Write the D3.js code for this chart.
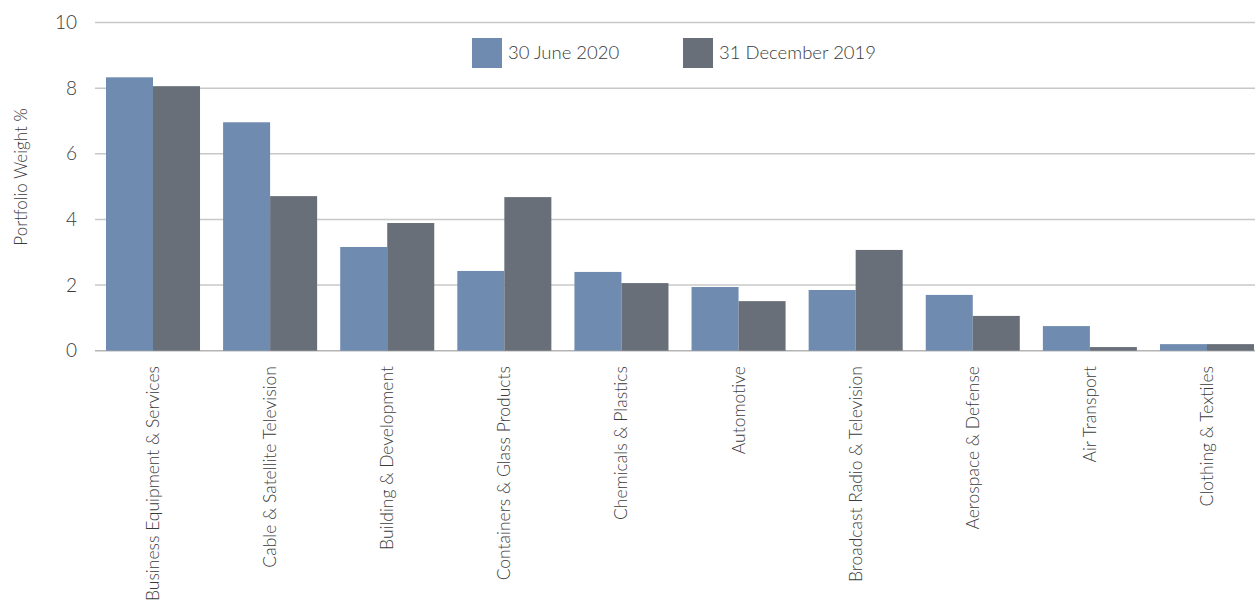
<!DOCTYPE html>
<html>
<head>
<meta charset="utf-8">
<script src="https://cdn.jsdelivr.net/npm/d3@7"></script>
<style>
  body { margin: 0; background: #fff; }
  text { font-family: Lato, "Open Sans", sans-serif; font-weight: 300; fill: #3a3a3a; }
</style>
</head>
<body>
<div id="chart"></div>
<script>
let categories = ['Business Equipment & Services', 'Cable & Satellite Television', 'Building & Development',
    'Containers & Glass Products', 'Chemicals & Plastics', 'Automotive', 'Broadcast Radio & Television',
    'Aerospace & Defense', 'Air Transport', 'Clothing & Textiles'];
let series_names = ['30 June 2020', '31 December 2019'];
let june2020 = [8.33, 6.96, 3.16, 2.43, 2.40, 1.94, 1.85, 1.70, 0.75, 0.20];
let dec2019  = [8.06, 4.71, 3.89, 4.68, 2.06, 1.51, 3.07, 1.06, 0.11, 0.20];
let y_ticks = [0, 2, 4, 6, 8, 10];
let colors = ['#6f8bb0', '#686f79'];

let chart_width = 1255;
let chart_height = 605;
let margin = { left: 95, top: 22.5, bottom: 254.3 };

let svg = d3.select('#chart')
    .append('svg')
    .attr('width', chart_width)
    .attr('height', chart_height);

let x_scale = d3.scaleBand()
    .domain(categories)
    .range([94.45, 1265.55])
    .paddingInner(0.197)
    .paddingOuter(0.0985);

let x_inner = d3.scaleBand()
    .domain(series_names)
    .range([0, x_scale.bandwidth()]);

let y_scale = d3.scaleLinear()
    .domain([0, 10])
    .range([chart_height - margin.bottom, margin.top]);

// Gridlines
svg.selectAll('line.grid')
    .data(y_ticks)
    .enter()
    .append('line')
    .attr('class', 'grid')
    .attr('x1', margin.left)
    .attr('x2', chart_width)
    .attr('y1', d => y_scale(d))
    .attr('y2', d => y_scale(d))
    .attr('stroke', d => d === 0 ? '#b4b4b4' : '#c8c8c8')
    .attr('stroke-width', 1.5);

// Y tick labels
svg.selectAll('text.ytick')
    .data(y_ticks)
    .enter()
    .append('text')
    .attr('class', 'ytick')
    .attr('x', 77)
    .attr('y', d => y_scale(d))
    .attr('dy', '0.35em')
    .attr('text-anchor', 'end')
    .attr('font-size', 19)
    .text(d => d);

// Y axis title
svg.append('text')
    .attr('transform', 'translate(27,177) rotate(-90)')
    .attr('text-anchor', 'middle')
    .attr('font-size', 17)
    .text('Portfolio Weight %');

// Bars
let rows = categories.map((c, i) => ({ cat: c, values: [june2020[i], dec2019[i]] }));

let groups = svg.selectAll('g.cat')
    .data(rows)
    .enter()
    .append('g')
    .attr('class', 'cat')
    .attr('transform', d => 'translate(' + x_scale(d.cat) + ',0)');

groups.selectAll('rect')
    .data(d => d.values.map((v, j) => ({ name: series_names[j], value: v, j: j })))
    .enter()
    .append('rect')
    .attr('x', d => x_inner(d.name))
    .attr('y', d => y_scale(d.value))
    .attr('width', x_inner.bandwidth())
    .attr('height', d => y_scale(0) - y_scale(d.value))
    .attr('fill', d => colors[d.j]);

// Category labels
svg.selectAll('text.xlabel')
    .data(categories)
    .enter()
    .append('text')
    .attr('class', 'xlabel')
    .attr('transform', d => 'translate(' + (x_scale(d) + x_scale.bandwidth() / 2 + 6) + ',366) rotate(-90)')
    .attr('text-anchor', 'end')
    .attr('font-size', 17.5)
    .text(d => d);

// Legend
let legend_x = [472, 683];
let legend = svg.selectAll('g.legend')
    .data(series_names)
    .enter()
    .append('g')
    .attr('class', 'legend')
    .attr('transform', (d, i) => 'translate(' + legend_x[i] + ',38)');

legend.append('rect')
    .attr('width', 30)
    .attr('height', 30)
    .attr('fill', (d, i) => colors[i]);

legend.append('text')
    .attr('x', 36)
    .attr('y', 15)
    .attr('dy', '0.35em')
    .attr('font-size', 18.5)
    .text(d => d);
</script>
</body>
</html>
